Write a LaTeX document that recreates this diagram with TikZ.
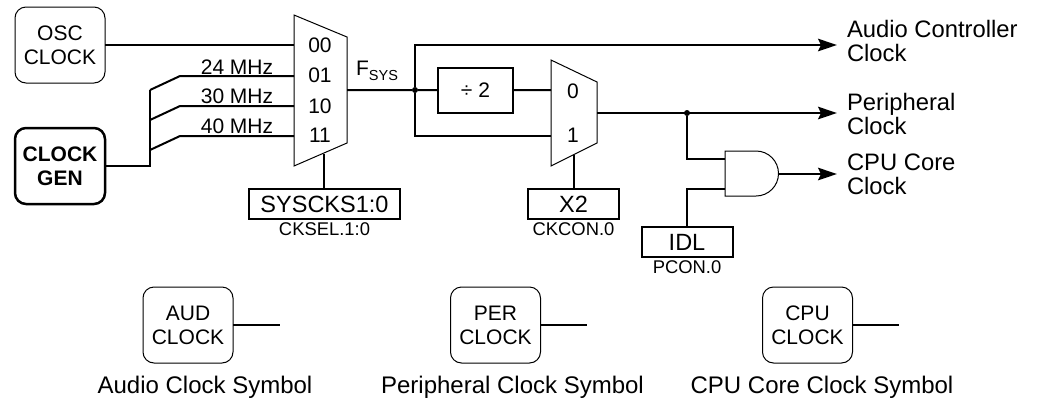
\documentclass[tikz,border=0pt]{standalone}
\usepackage{fontspec}
\setmainfont{Liberation Sans}
\usetikzlibrary{arrows.meta,positioning}
\newcommand{\fs}[1]{\fontsize{#1}{24}\selectfont}

\begin{document}
\begin{tikzpicture}[x=1pt, y=-1pt, >={Stealth[length=19pt,width=12.5pt,inset=3pt]}, line width=2pt]
\tikzstyle{every node}=[outer sep=0pt, inner sep=0pt, align=center, font=\fs{21}]
\tikzstyle{clk}=[draw, line width=1pt, rounded corners=11pt, minimum width=90pt, minimum height=76pt]
\tikzstyle{gen}=[clk, line width=2.5pt, font=\fs{21}\bfseries]
\tikzstyle{reg}=[draw, line width=2pt, minimum width=91pt, minimum height=30pt, font=\fs{23.5}]
\tikzstyle{regname}=[font=\fs{18.4}]
\tikzstyle{outlabel}=[anchor=west, align=left, font=\fs{23.8}]
\tikzstyle{caption}=[font=\fs{24}]
\tikzstyle{joint}=[circle, fill=black, minimum size=6pt]
\tikzstyle{outline}=[line width=1pt, line join=miter]

\useasboundingbox (0,0) rectangle (1037,400);

% sources
\node[clk] (osc) at (60,45) {OSC\\CLOCK};
\node[gen] (gen) at (60,166) {CLOCK\\GEN};

% first mux
\draw[outline] (294,15) -- (347,37) -- (347,143) -- (294,166) -- cycle;
\node (m00) at (320,45) {00};
\node (m01) at (320,75) {01};
\node (m10) at (320,106) {10};
\node (m11) at (320,135) {11};
\coordinate (ma) at (294,44.5);
\coordinate (mb) at (294,76);
\coordinate (mc) at (294,106);
\coordinate (md) at (294,136);
\coordinate (me) at (324,154);
\coordinate (mout) at (347,90);
\node (fsys) at (377,71) {F\raisebox{-5pt}{\fs{14.5}SYS}};

\node[reg, minimum width=151pt] (sysck) at (324.5,204) {SYSCKS1:0};
\node[regname, below=4pt of sysck] (cksel) {CKSEL.1:0};

% bus
\coordinate (bus0) at (150,166);
\coordinate (bus1) at (150,90);
\coordinate (bus2) at (150,120);
\coordinate (bus3) at (150,150);
\coordinate (k1) at (180,76);
\coordinate (k2) at (180,106);
\coordinate (k3) at (180,136);
\node[anchor=south] (f24) at (237,74) {24 MHz};
\node[anchor=south] (f30) at (237,104) {30 MHz};
\node[anchor=south] (f40) at (237,134) {40 MHz};

% second mux
\draw[outline] (551,60) -- (597,82) -- (597,143) -- (551,166) -- cycle;
\node (n0) at (573,91) {0};
\node (n1) at (573,135) {1};
\coordinate (na) at (551,90);
\coordinate (nb) at (551,136);
\coordinate (nc) at (574,155);
\coordinate (nout) at (597,113);
\node[joint] (j1) at (415,90) {};
\node[draw, minimum width=75pt, minimum height=45pt] (div) at (475.5,90.5) {÷ 2};
\node[reg] (x2) at (573.5,204) {X2};
\node[regname, below=4pt of x2] (ckcon) {CKCON.0};

% and gate
\draw[outline] (725,151) -- (756,151) arc (90:-90:22.5pt) -- (725,196) -- cycle;
\coordinate (ga) at (725,159);
\coordinate (gb) at (725,189);
\coordinate (gout) at (778,174);
\node[joint] (j2) at (687,113) {};
\node[reg] (idl) at (687,242) {IDL};
\node[regname, below=4pt of idl] (pcon) {PCON.0};

% outputs
\coordinate (e1) at (837,45);
\coordinate (e2) at (837,113);
\coordinate (e3) at (837,174);
\node[outlabel] (aud) at (847,41) {Audio Controller\\Clock};
\node[outlabel] (per) at (847,114) {Peripheral\\Clock};
\node[outlabel] (cpu) at (847,174) {CPU Core\\Clock};

% symbols
\node[clk] (sa) at (188,325) {AUD\\CLOCK};
\node[clk] (sp) at (495.5,325) {PER\\CLOCK};
\node[clk] (sc) at (807.5,325) {CPU\\CLOCK};
\coordinate (ta) at (280,325);
\coordinate (tp) at (587,325);
\coordinate (tc) at (899,325);
\node[caption] (ca) at (205,387) {Audio Clock Symbol};
\node[caption] (cp) at (512.5,387) {Peripheral Clock Symbol};
\node[caption] (cc) at (822,387) {CPU Core Clock Symbol};

\draw (osc.east |- ma) -- (ma);
\draw[line width=2.8pt] (gen.east) -- (bus0) -- (bus1);
\draw (bus1) -- (k1) -- (mb);
\draw (bus2) -- (k2) -- (mc);
\draw (bus3) -- (k3) -- (md);
\draw (me) -- (me |- sysck.north);
\draw (mout) -- (j1) -- (div);
\draw (div) -- (na);
\draw[->] (j1) |- (e1);
\draw (j1) |- (nb);
\draw (nc) -- (nc |- x2.north);
\draw[->] (nout) -- (e2);
\draw (j2) |- (ga);
\draw (idl) |- (gb);
\draw[->] (gout) -- (e3);
\draw (sa) -- (ta);
\draw (sp) -- (tp);
\draw (sc) -- (tc);
\end{tikzpicture}
\end{document}
